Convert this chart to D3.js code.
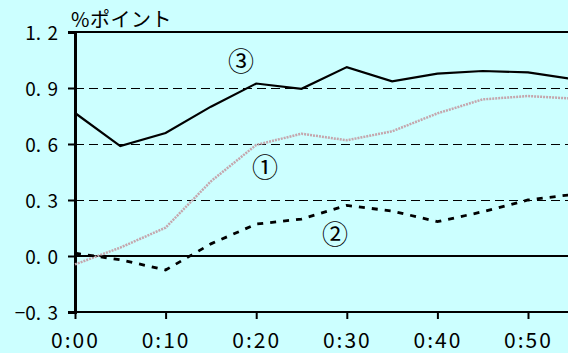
<!DOCTYPE html>
<html><head><meta charset="utf-8">
<script src="https://cdn.jsdelivr.net/npm/d3@7"></script>
<style>html,body{margin:0;padding:0;background:#ccffff;overflow:hidden}</style>
</head><body>
<svg id="c" width="568" height="353"></svg>
<script>
const minutes = [0,5,10,15,20,25,30,35,40,45,50,55];
const series1 = [-0.045,0.045,0.152,0.40,0.595,0.655,0.62,0.668,0.764,0.839,0.857,0.843];
const series2 = [0.015,-0.02,-0.075,0.065,0.171,0.198,0.271,0.241,0.184,0.237,0.30,0.33];
const series3 = [0.766,0.589,0.659,0.80,0.924,0.896,1.012,0.936,0.977,0.991,0.984,0.947];
const yTicks = [-0.3,0,0.3,0.6,0.9,1.2];
const yTickLabels = ["−0.\u20043","0.\u20040","0.\u20043","0.\u20046","0.\u20049","1.\u20042"];
const xTicks = [0,10,20,30,40,50];
const xTickLabels = ["0:00","0:10","0:20","0:30","0:40","0:50"];
const unitLabel = "%ポイント";
const seriesLabels = ["①","②","③"];

const svg = d3.select("#c");
svg.append("rect").attr("width",568).attr("height",353).attr("fill","#ccffff");
const x = d3.scaleLinear().domain([0,60]).range([75,618.6]);
const y = d3.scaleLinear().domain([-0.3,1.2]).range([312,32]);
const font = "'Noto Sans CJK JP','Noto Sans',sans-serif";

// gridlines
svg.append("g").selectAll("line").data([0.3,0.6,0.9]).join("line")
  .attr("x1",75).attr("x2",568).attr("y1",d=>Math.round(y(d))+0.5).attr("y2",d=>Math.round(y(d))+0.5)
  .attr("stroke","#000").attr("stroke-width",1).attr("stroke-dasharray","9,5");
// solid lines at 1.2, 0, -0.3
svg.append("g").selectAll("line").data([1.2,0,-0.3]).join("line")
  .attr("x1",75).attr("x2",568).attr("y1",d=>Math.round(y(d))).attr("y2",d=>Math.round(y(d)))
  .attr("stroke","#000").attr("stroke-width",2);

// y axis
const yAxis = d3.axisLeft(y).tickValues(yTicks).tickSize(7).tickFormat((d,i)=>yTickLabels[i]).tickPadding(10);
const gy = svg.append("g").attr("transform","translate(75,0)").call(yAxis);
gy.select(".domain").attr("stroke-width",3);
gy.selectAll(".tick line").attr("stroke-width",2);
gy.selectAll("text").attr("font-family",font).attr("font-size",19).attr("fill","#000")
  .attr("dy","7.5px");

// x axis
const xAxis = d3.axisBottom(x).tickValues(xTicks).tickSize(7).tickFormat((d,i)=>xTickLabels[i]).tickPadding(8);
const gx = svg.append("g").attr("transform","translate(0,312)").call(xAxis);
gx.select(".domain").remove();
gx.selectAll(".tick line").attr("stroke-width",2);
gx.selectAll("text").attr("font-family",font).attr("font-size",21).attr("fill","#000").attr("letter-spacing","2px")
  .attr("y",36).attr("dy",0);

const line = d3.line().x((d,i)=>x(minutes[i])).y(d=>y(d));
svg.append("path").datum(series1).attr("d",line).attr("fill","none")
  .attr("stroke","#c4a6ad").attr("stroke-width",2.5).attr("stroke-dasharray","2,1");
svg.append("path").datum(series2).attr("d",line).attr("fill","none")
  .attr("stroke","#000").attr("stroke-width",2.8).attr("stroke-dasharray","6,7");
svg.append("path").datum(series3).attr("d",line).attr("fill","none")
  .attr("stroke","#000").attr("stroke-width",2.2);

svg.append("text").attr("x",71).attr("y",27).attr("font-family",font).attr("font-size",20)
  .attr("letter-spacing","0.5px").text(unitLabel);
const lab = [[265,165],[335,232],[241,59]];
svg.selectAll(".sl").data(seriesLabels).join("text")
  .attr("x",(d,i)=>lab[i][0]).attr("y",(d,i)=>lab[i][1]).attr("text-anchor","middle")
  .attr("dominant-baseline","central").attr("font-family",font).attr("font-size",26).text(d=>d);
</script>
</body></html>
